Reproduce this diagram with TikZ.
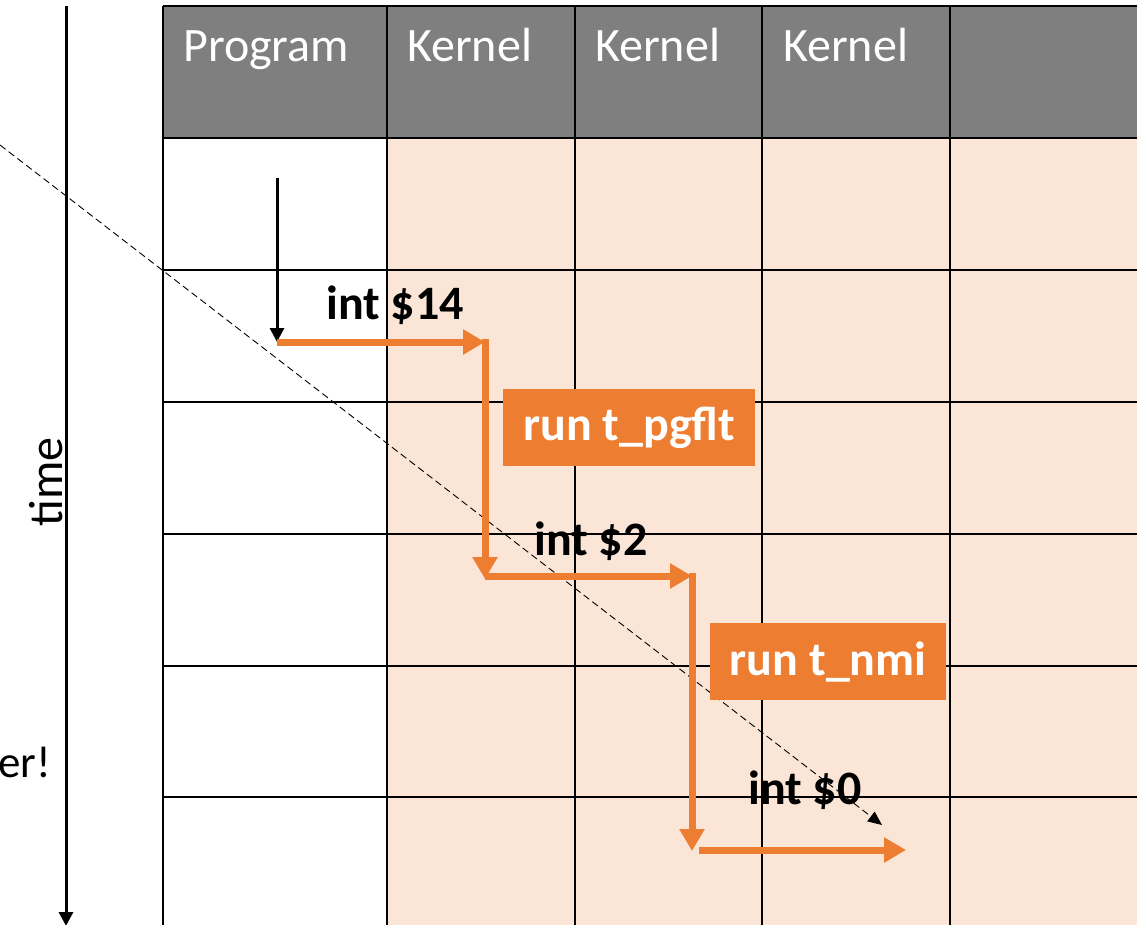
\documentclass[tikz,border=0pt]{standalone}
\usepackage{fontspec}
\setmainfont{Carlito}
\usetikzlibrary{arrows.meta}
\definecolor{hdr}{HTML}{7F7F7F}
\definecolor{peach}{HTML}{FBE5D6}
\definecolor{orng}{HTML}{ED7D31}
\tikzset{
  grid/.style={line width=2.5pt, black},
  oarrow/.style={orng, line width=7pt, -{Triangle[length=22pt,width=24pt]}},
  barrow/.style={black, line width=3pt, -{Triangle[length=14pt,width=14pt]}},
  hdrtext/.style={text=white, font=\fontsize{48}{54}\selectfont, anchor=base west, inner sep=0pt},
  lbl/.style={font=\fontsize{48}{54}\selectfont\bfseries, inner sep=0pt},
  runbox/.style={fill=orng, text=white, font=\fontsize{48}{54}\selectfont\bfseries, inner sep=0pt, anchor=north west},
}
\begin{document}
\begin{tikzpicture}[x=1pt,y=-1pt]
\useasboundingbox (0,0) rectangle (1137,925);
\clip (0,0) rectangle (1137,925);
% fills
\fill[hdr] (163,6) rectangle (1145,138);
\fill[white] (163,138) rectangle (387,930);
\fill[peach] (387,138) rectangle (1145,930);
% grid
\foreach \x in {163,387,575,762,950} \draw[grid] (\x,6) -- (\x,930);
\foreach \y in {6,138,270,402,534,666,797} \draw[grid] (163,\y) -- (1145,\y);
% headers
\node[hdrtext] (hp) at (183,62) {Program};
\node[hdrtext] (hk1) at (407,62) {Kernel};
\node[hdrtext] (hk2) at (595,62) {Kernel};
\node[hdrtext] (hk3) at (783,62) {Kernel};
% time axis
\coordinate (t0) at (66,6);
\coordinate (t1) at (66,926);
\draw[black, line width=3pt, -{Triangle[length=14pt,width=14pt]}] (t0) -- (t1);
\node[font=\fontsize{48}{54}\selectfont, rotate=90, inner sep=0pt] (time) at (46,482) {time};
\node[font=\fontsize{45}{50}\selectfont, anchor=base east, inner sep=0pt] (er) at (51,777) {er!};
% dashed line
\coordinate (d0) at (0,145);
\coordinate (d1) at (882,825);
\draw[black, line width=0.9pt, dash pattern=on 7pt off 4pt, -{Triangle[length=14pt,width=12pt]}] (d0) -- (d1);
% black arrow
\coordinate (b0) at (277,178);
\coordinate (b1) at (277,342);
\draw[barrow] (b0) -- (b1);
% orange path
\coordinate (o1) at (277,342);
\coordinate (o2) at (485,342);
\coordinate (o3) at (485,339);
\coordinate (o4) at (485,579);
\coordinate (o5) at (485,576);
\coordinate (o6) at (692,576);
\coordinate (o7) at (692,573);
\coordinate (o8) at (692,851);
\coordinate (o9) at (699,850);
\coordinate (o10) at (906,850);
\draw[oarrow] (o1) -- (o2);
\draw[oarrow] (o3) -- (o4);
\draw[oarrow] (o5) -- (o6);
\draw[oarrow] (o7) -- (o8);
\draw[oarrow] (o9) -- (o10);
% labels
\node[lbl] (i14) at (395,305) {int \$14};
\node[lbl] (i2) at (591,541) {int \$2};
\node[lbl] (i0) at (805,790) {int \$0};
\node[runbox, minimum width=252pt, minimum height=77pt] (r1) at (503,389) {run t\_pgflt};
\node[runbox, minimum width=236pt, minimum height=77pt] (r2) at (710,623) {run t\_nmi};
\end{tikzpicture}
\end{document}
